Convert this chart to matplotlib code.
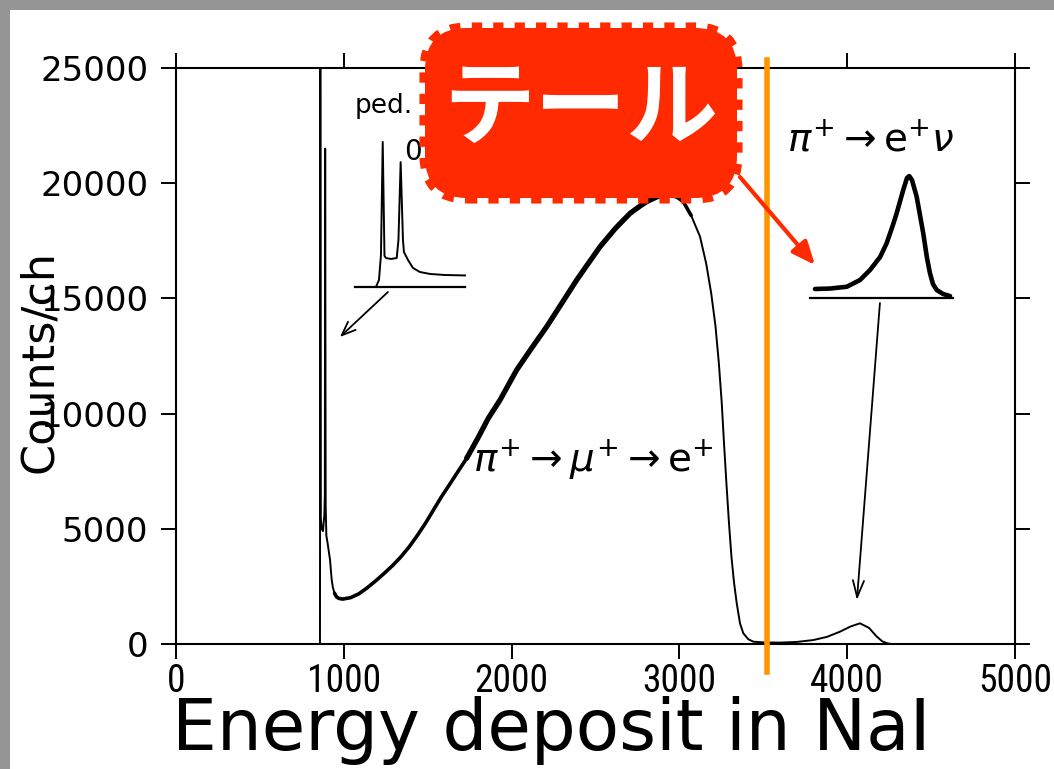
import matplotlib
matplotlib.use("Agg")
import matplotlib.pyplot as plt
import matplotlib.transforms as mtransforms
from matplotlib import font_manager
from matplotlib.patches import FancyBboxPatch, Rectangle

# ---------------- data ----------------
# NaI energy spectrum: energy deposit (channel) vs counts per channel
energy = [800, 855, 858, 860, 863, 868, 876, 884, 887, 889, 892, 896, 903, 910,
          918, 923, 928, 935, 945, 956, 970, 993, 1040, 1090, 1136, 1190, 1240,
          1290, 1335, 1390, 1440, 1490, 1533, 1580, 1630, 1680, 1732, 1800, 1861,
          1931, 2030, 2120, 2209, 2300, 2388, 2460, 2527, 2620, 2706, 2760, 2805,
          2870, 2930, 2975, 3023, 3070, 3123, 3160, 3190, 3215, 3235, 3252, 3266,
          3280, 3295, 3310, 3325, 3341, 3361, 3381, 3411, 3441, 3500, 3600, 3700,
          3797, 3880, 3957, 4020, 4076, 4130, 4175, 4210, 4240, 4260, 4400]
counts = [0, 0, 0, 26500, 5500, 5000, 4900, 5600, 6500, 21500, 6000, 4700, 4400, 4050,
          3650, 3200, 2780, 2450, 2200, 2050, 1980, 1950, 2010, 2180, 2420, 2740, 3060,
          3400, 3740, 4220, 4730, 5280, 5800, 6370, 6920, 7480, 8060, 8950, 9795,
          10590, 11892, 12850, 13773, 14800, 15799, 16550, 17244, 18050, 18692, 18980, 19200,
          19420, 19550, 19450, 19200, 18600, 17680, 16500, 15200, 13800, 12200, 10500, 8700,
          7000, 5300, 3800, 2700, 1800, 898, 463, 204, 100, 70, 60, 90,
          170, 310, 535, 760, 897, 700, 330, 110, 30, 0, 0]

# Pedestal close-up (arbitrary units)
ped_x = [19, 21.8, 23.6, 25.2, 26.8, 28.2, 32.7, 37.9, 39.5, 41.5, 43.6, 44.5,
         48.2, 52.7, 59, 68.2, 81.8, 100]
ped_y = [0, 4.7, 21.3, 96.7, 20.7, 19.3, 18.7, 19.3, 31.3, 83.3, 31.3, 23.3,
         18, 12.7, 10, 8.7, 8, 7.7]

# pi -> e nu peak close-up (arbitrary units)
enu_x = [3.5, 14, 25.7, 35, 42, 49, 53.6, 58, 60.6, 65.2, 67.8, 69.4, 71.3,
         74.6, 76.9, 79.2, 81.8, 83.9, 86, 88.6, 93, 97.9]
enu_y = [6, 6.3, 7.5, 12, 18.7, 27.3, 36.5, 48.7, 56.5, 72, 80, 81.3, 78.7,
         67.5, 55.3, 43.1, 26.7, 16.5, 9.3, 5.3, 2.7, 1.3]

x_ticks = [0, 1000, 2000, 3000, 4000, 5000]
y_ticks = [0, 5000, 10000, 15000, 20000, 25000]
cut_energy = 3524

W, H = 1054, 769
fig = plt.figure(figsize=(W / 100, H / 100), dpi=100)
fig.patch.set_facecolor("white")

# pixel-based transform (origin bottom-left, y up)
px = mtransforms.Affine2D().scale(1 / W, 1 / H) + fig.transFigure


def fig_box(x0, y_top, x1, y_bot):
    """axes rectangle from pixel edges measured from the top-left."""
    return [x0 / W, 1 - y_bot / H, (x1 - x0) / W, (y_bot - y_top) / H]


# narrow face for the energy tick labels when one is available
installed = {f.name for f in font_manager.fontManager.ttflist}
narrow = next((n for n in ["Liberation Sans Narrow", "Roboto Condensed",
                           "Open Sans Condensed", "DejaVu Sans Condensed"]
               if n in installed), None)
if narrow:
    xtick_family, xtick_size = narrow, 27
else:
    xtick_family, xtick_size = "Liberation Sans", 24

ax = fig.add_axes(fig_box(176, 68, 1015, 644))
ax.set_xlim(0, 5000)
ax.set_ylim(0, 25000)

# spectrum with thicker stroke where the statistics look noisy
ax.plot(energy, counts, color="black", lw=1.4, solid_joinstyle="round", zorder=3)
i0, i1 = energy.index(945), energy.index(3070)
ax.plot(energy[i0:i1 + 1], counts[i0:i1 + 1], color="black", lw=2.6,
        solid_capstyle="round", solid_joinstyle="round", zorder=3)
j0, j1 = energy.index(1732), energy.index(2975)
ax.plot(energy[j0:j1 + 1], counts[j0:j1 + 1], color="black", lw=3.8,
        solid_capstyle="round", solid_joinstyle="round", zorder=3)

for s in ax.spines.values():
    s.set_linewidth(1.5)
ax.set_xticks(x_ticks)
ax.set_yticks(y_ticks)
ax.tick_params(direction="out", length=11, width=1.4, top=True, right=True,
               labeltop=False, labelright=False)
ax.tick_params(axis="y", pad=9, labelsize=24.5)
ax.tick_params(axis="x", pad=3, labelsize=xtick_size)
for lab in ax.get_xticklabels():
    lab.set_family(xtick_family)
for lab in ax.get_yticklabels():
    lab.set_family("DejaVu Sans")

ax.set_ylabel("Counts/ch", fontsize=32, family="DejaVu Sans")
ax.yaxis.set_label_coords(-0.137, 0.491)

# threshold marker
ax.plot([cut_energy, cut_energy], [25350, -1215], color="#FF9600", lw=4,
        clip_on=False, zorder=4)

# decay-mode labels
ax.text(1770, 7465, r"$\pi^{+}\rightarrow\mu^{+}\rightarrow\mathrm{e}^{+}$",
        fontsize=28, ha="left", va="baseline", zorder=5)
ax.text(3641, 21367, r"$\pi^{+}\rightarrow\mathrm{e}^{+}\nu$",
        fontsize=28, ha="left", va="baseline", zorder=5)
ax.text(1067, 23047, "ped.", fontsize=19, ha="left", va="baseline", zorder=5)
ax.text(1359, 21007, "0", fontsize=20, ha="left", va="baseline", zorder=5)

# pointers from the close-ups to the spectrum
ax.annotate("", xy=(977, 13325), xytext=(1263, 15278),
            arrowprops=dict(arrowstyle="->,head_length=1.0,head_width=0.4",
                            color="black", lw=1.3, shrinkA=0, shrinkB=0),
            annotation_clip=False)
ax.annotate("", xy=(4058, 1910), xytext=(4195, 14800),
            arrowprops=dict(arrowstyle="->,head_length=1.2,head_width=0.4",
                            color="black", lw=1.3, shrinkA=0, shrinkB=0),
            annotation_clip=False)

# pedestal close-up
ax_ped = fig.add_axes(fig_box(355, 137, 465, 287))
ax_ped.set_xlim(0, 100)
ax_ped.set_ylim(0, 100)
ax_ped.plot(ped_x, ped_y, color="black", lw=1.4, clip_on=False)
ax_ped.plot([0, 100], [0, 0], color="black", lw=1.6, clip_on=False)
ax_ped.axis("off")

# pi -> e nu close-up
ax_enu = fig.add_axes(fig_box(810, 148, 953, 298))
ax_enu.set_xlim(0, 100)
ax_enu.set_ylim(0, 100)
ax_enu.plot(enu_x, enu_y, color="black", lw=3.3, solid_capstyle="round",
            solid_joinstyle="round", clip_on=False)
ax_enu.plot([0, 100], [0, 0], color="black", lw=1.6, clip_on=False)
ax_enu.axis("off")

# x axis title
fig.text(551 / W, 1 - 750 / H, "Energy deposit in NaI", fontsize=51,
         family="DejaVu Sans", ha="center", va="baseline")

# callout
red = "#FF2A00"
lw_edge = 8.0
callout = FancyBboxPatch((425, H - 198), 312, 170,
                         boxstyle="round,pad=0,rounding_size=42",
                         transform=px, facecolor=red, edgecolor=red,
                         linewidth=lw_edge, linestyle=(0, (7.4 / lw_edge, 8.0 / lw_edge)),
                         zorder=10)
fig.patches.append(callout)
fig.text(581 / W, 1 - 110 / H, "テール", fontsize=66, color="white",
         family=["Noto Sans CJK JP", "DejaVu Sans"], weight="bold",
         ha="center", va="center", zorder=11)
ax.annotate("", xy=(3808, 16450), xytext=(3361, 20269),
            arrowprops=dict(arrowstyle="-|>,head_length=1.4,head_width=0.6",
                            color=red, lw=3, shrinkA=0, shrinkB=0),
            annotation_clip=False, zorder=9)

# grey frame on top and left
grey = "#959595"
fig.patches.append(Rectangle((0, H - 10), W, 10, transform=px, facecolor=grey,
                             edgecolor="none", zorder=12))
fig.patches.append(Rectangle((0, 0), 10, H, transform=px, facecolor=grey,
                             edgecolor="none", zorder=12))

fig.savefig("out.png", dpi=100, facecolor="white")
